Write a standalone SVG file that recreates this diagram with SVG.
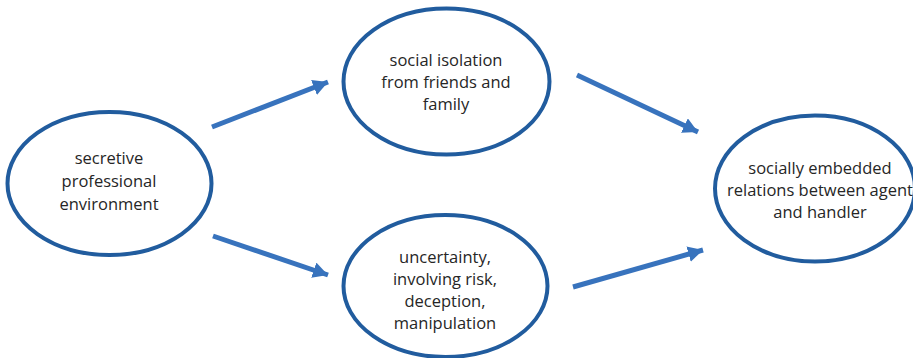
<svg xmlns="http://www.w3.org/2000/svg" width="913" height="358" viewBox="0 0 913 358">
<style>
.node ellipse{fill:#fff;stroke:#215c9e;stroke-width:4}
.node text{font-family:"Open Sans","Liberation Sans",sans-serif;font-size:16.5px;fill:#262626;text-anchor:middle}
.conn line{stroke:#3873bd;stroke-width:5;fill:none}
</style>
<defs>
<marker id="ah" markerUnits="userSpaceOnUse" markerWidth="16" markerHeight="16" refX="15" refY="8" orient="auto">
<path d="M0,0 L15,8 L0,16 z" fill="#3873bd"/>
</marker>
</defs>
<rect width="913" height="358" fill="#fff"/>
<g id="connectors" class="conn">
<line x1="212" y1="127" x2="328" y2="82" marker-end="url(#ah)"/>
<line x1="577" y1="75" x2="698" y2="132" marker-end="url(#ah)"/>
<line x1="213" y1="236" x2="328" y2="275" marker-end="url(#ah)"/>
<line x1="573" y1="287" x2="703" y2="250" marker-end="url(#ah)"/>
</g>
<g id="n1" class="node">
<ellipse cx="109.5" cy="183.5" rx="102" ry="71.5"/>
<text x="109" y="164">secretive</text>
<text x="109" y="187">professional</text>
<text x="109" y="210">environment</text>
</g>
<g id="n2" class="node">
<ellipse cx="446.5" cy="81.5" rx="103" ry="73"/>
<text x="446" y="66">social isolation</text>
<text x="446" y="88">from friends and</text>
<text x="446" y="110">family</text>
</g>
<g id="n3" class="node">
<ellipse cx="445.5" cy="286" rx="102" ry="71"/>
<text x="445" y="263">uncertainty,</text>
<text x="445" y="285">involving risk,</text>
<text x="445" y="307">deception,</text>
<text x="445" y="329">manipulation</text>
</g>
<g id="n4" class="node">
<ellipse cx="815" cy="188.5" rx="100" ry="73"/>
<text x="820" y="174">socially embedded</text>
<text x="820" y="196">relations between agent</text>
<text x="820" y="218">and handler</text>
</g>
</svg>
